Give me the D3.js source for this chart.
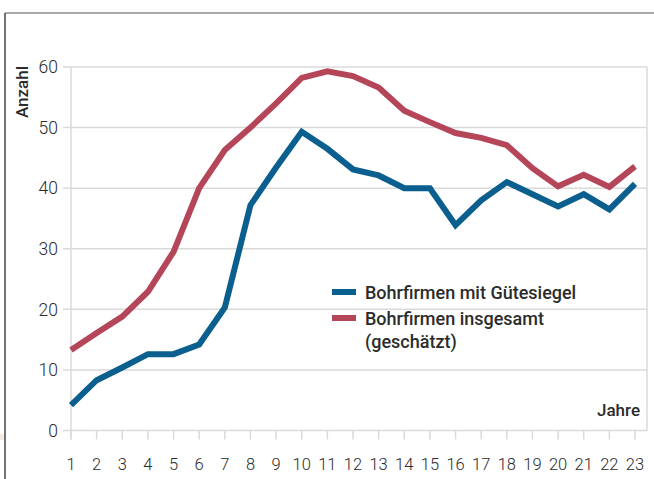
<!DOCTYPE html>
<html>
<head>
<meta charset="utf-8">
<script src="https://cdn.jsdelivr.net/npm/d3@7"></script>
<style>
  body { margin: 0; background: #fff; }
  svg text { font-family: Roboto, "Noto Sans", sans-serif; fill: #2b2b2b; }
</style>
</head>
<body>
<script>
// years on the x axis
var years = d3.range(1, 24);
// Bohrfirmen mit Guetesiegel
var guetesiegel = [4.2, 8.3, 10.4, 12.6, 12.6, 14.2, 20.3, 37.2, 43.4, 49.3, 46.5, 43.1, 42.1, 40, 40, 33.9, 38, 41, 39, 37, 39, 36.5, 40.7];
// Bohrfirmen insgesamt (geschaetzt)
var insgesamt = [13.3, 16.1, 18.8, 22.9, 29.5, 40, 46.3, 50, 54, 58.2, 59.3, 58.5, 56.6, 52.8, 50.9, 49.1, 48.3, 47.1, 43.3, 40.3, 42.2, 40.2, 43.6];
var yTicks = [0, 10, 20, 30, 40, 50, 60];
var seriesNames = ["Bohrfirmen mit Gütesiegel", "Bohrfirmen insgesamt"];
var seriesColors = ["#0b5f8e", "#b5465a"];

var width = 654, height = 479;

var svg = d3.select("body").append("svg")
    .attr("width", width)
    .attr("height", height);

// frame (top + left)
svg.append("line").attr("x1", 5).attr("y1", 13).attr("x2", width).attr("y2", 13)
    .attr("stroke", "#8c8c8c").attr("stroke-width", 1.5);
svg.append("line").attr("x1", 5).attr("y1", 13).attr("x2", 5).attr("y2", height)
    .attr("stroke", "#444").attr("stroke-width", 1.5);
svg.append("rect").attr("x", 0).attr("y", 434).attr("width", 4).attr("height", 6)
    .attr("fill", "#f4ece1");

var x = d3.scaleLinear().domain([1, 23]).range([71, 635]);
var y = d3.scaleLinear().domain([0, 60]).range([430.5, 67]);
var plotRight = 647;

// horizontal gridlines + small left ticks
svg.append("g").selectAll("line").data(yTicks).enter().append("line")
    .attr("x1", 63).attr("x2", plotRight)
    .attr("y1", function(d){ return y(d); })
    .attr("y2", function(d){ return y(d); })
    .attr("stroke", "#dadada").attr("stroke-width", 1.5);

// left and right vertical borders of plot
svg.append("line").attr("x1", x(1)).attr("x2", x(1)).attr("y1", y(60)).attr("y2", y(0) + 9)
    .attr("stroke", "#dadada").attr("stroke-width", 1.5);
svg.append("line").attr("x1", plotRight).attr("x2", plotRight).attr("y1", y(60)).attr("y2", y(0))
    .attr("stroke", "#dadada").attr("stroke-width", 1.5);

// x tick marks
svg.append("g").selectAll("line").data(years).enter().append("line")
    .attr("x1", function(d){ return x(d); })
    .attr("x2", function(d){ return x(d); })
    .attr("y1", y(0)).attr("y2", y(0) + 9)
    .attr("stroke", "#dadada").attr("stroke-width", 1.5);

// y tick labels
svg.append("g").selectAll("text").data(yTicks).enter().append("text")
    .attr("x", 58)
    .attr("y", function(d){ return y(d); })
    .attr("dy", "0.36em")
    .attr("text-anchor", "end")
    .style("font-size", "17.5px")
    .style("font-weight", 300)
    .text(function(d){ return d; });

// x tick labels
svg.append("g").selectAll("text").data(years).enter().append("text")
    .attr("x", function(d){ return x(d); })
    .attr("y", 470)
    .attr("text-anchor", "middle")
    .style("font-size", "16.5px")
    .style("font-weight", 300)
    .text(function(d){ return d; });

svg.append("text")
    .attr("transform", "translate(28,92) rotate(-90)")
    .attr("text-anchor", "middle")
    .style("font-size", "17px")
    .style("font-weight", 500)
    .text("Anzahl");

svg.append("text")
    .attr("x", 640).attr("y", 416)
    .attr("text-anchor", "end")
    .style("font-size", "17px")
    .style("font-weight", 500)
    .text("Jahre");

var line = d3.line()
    .x(function(d, i){ return x(years[i]); })
    .y(function(d){ return y(d); });

[insgesamt, guetesiegel].forEach(function(s, k){
    svg.append("path")
        .datum(s)
        .attr("d", line)
        .attr("fill", "none")
        .attr("stroke", k == 0 ? seriesColors[1] : seriesColors[0])
        .attr("stroke-width", 6)
        .attr("stroke-linejoin", "miter");
});

// legend
var legend = svg.append("g");
legend.append("rect").attr("x", 332).attr("y", 289).attr("width", 24).attr("height", 6)
    .attr("fill", seriesColors[0]);
legend.append("text").attr("x", 365).attr("y", 299)
    .style("font-size", "18px").style("font-weight", 500)
    .text(seriesNames[0]);
legend.append("rect").attr("x", 332).attr("y", 315).attr("width", 24).attr("height", 6)
    .attr("fill", seriesColors[1]);
legend.append("text").attr("x", 365).attr("y", 325)
    .style("font-size", "18px").style("font-weight", 500)
    .text(seriesNames[1]);
legend.append("text").attr("x", 365).attr("y", 348)
    .style("font-size", "18px").style("font-weight", 500)
    .text("(geschätzt)");
</script>
</body>
</html>
